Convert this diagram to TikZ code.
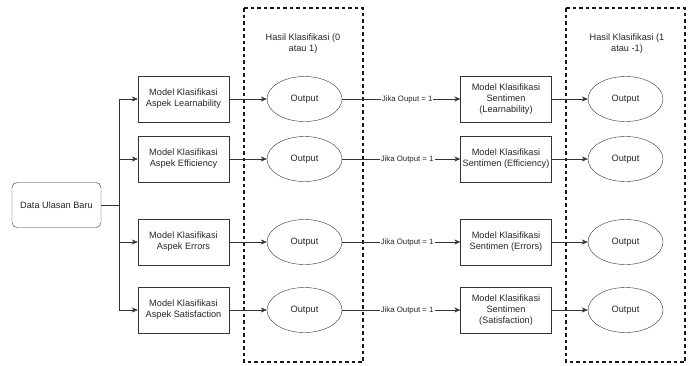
\documentclass[tikz,border=0pt]{standalone}
\usepackage{fontspec}
\setmainfont{Liberation Sans}
\usetikzlibrary{arrows.meta,shapes.geometric}

\begin{document}
\begin{tikzpicture}[x=1pt, y=-1pt,
    font=\fontsize{9.2}{11}\selectfont,
    every node/.style={text=black!85},
    box/.style={draw=black!80, minimum width=91pt, minimum height=46pt, align=center, inner sep=1pt},
    oval/.style={draw=black!80, ellipse, minimum width=75pt, minimum height=45pt, inner sep=0pt},
    arr/.style={draw=black!80, -{Stealth[length=6pt, width=5pt]}},
    frame/.style={draw=black!90, line width=1.4pt, dash pattern=on 3.5pt off 3pt},
    cond/.style={pos=0.55, fill=white, inner sep=1pt, font=\fontsize{7.8}{9}\selectfont}]
    \useasboundingbox (0,0) rectangle (695,365);

    % Dashed frames
    \draw[frame] (244,8) rectangle (363,362);
    \draw[frame] (566,8) rectangle (685,362);
    \node[align=center] (t1) at (303,44) {Hasil Klasifikasi (0\\atau 1)};
    \node[align=center] (t2) at (627,44) {Hasil Klasifikasi (1\\atau -1)};

    % Input
    \node[draw=black!80, rounded corners=5pt, minimum width=89pt, minimum height=45pt] (data) at (56.5,205) {Data Ulasan Baru};
    \coordinate (split) at (119,205);

    % Aspect models
    \node[box] (mL) at (183.5,99) {Model Klasifikasi\\Aspek Learnability};
    \node[box] (mE) at (183.5,159) {Model Klasifikasi\\Aspek Efficiency};
    \node[box] (mR) at (183.5,242) {Model Klasifikasi\\Aspek Errors};
    \node[box] (mS) at (183.5,310) {Model Klasifikasi\\Aspek Satisfaction};

    % First outputs
    \node[oval] (oL) at (304.5,99) {Output};
    \node[oval] (oE) at (304.5,159) {Output};
    \node[oval] (oR) at (304.5,242) {Output};
    \node[oval] (oS) at (304.5,310) {Output};

    % Sentiment models
    \node[box] (sL) at (506,99) {Model Klasifikasi\\Sentimen\\(Learnability)};
    \node[box] (sE) at (506,159) {Model Klasifikasi\\Sentimen (Efficiency)};
    \node[box] (sR) at (506,242) {Model Klasifikasi\\Sentimen (Errors)};
    \node[box] (sS) at (506,310) {Model Klasifikasi\\Sentimen\\(Satisfaction)};

    % Second outputs
    \node[oval] (rL) at (625.5,99) {Output};
    \node[oval] (rE) at (625.5,159) {Output};
    \node[oval] (rR) at (625.5,242) {Output};
    \node[oval] (rS) at (625.5,310) {Output};

    % Branching from input
    \draw[draw=black!80] (data.east) -- (split);
    \draw[arr] (split) |- (mL.west);
    \draw[arr] (split) |- (mE.west);
    \draw[arr] (split) |- (mR.west);
    \draw[arr] (split) |- (mS.west);

    % Models to outputs
    \draw[arr] (mL) -- (oL);
    \draw[arr] (mE) -- (oE);
    \draw[arr] (mR) -- (oR);
    \draw[arr] (mS) -- (oS);

    % Conditional arrows
    \draw[arr] (oL) -- (sL) node[cond] {Jika Ouput = 1};
    \draw[arr] (oE) -- (sE) node[cond] {Jika Output = 1};
    \draw[arr] (oR) -- (sR) node[cond] {Jika Output = 1};
    \draw[arr] (oS) -- (sS) node[cond] {Jika Output = 1};

    % Sentiment to outputs
    \draw[arr] (sL) -- (rL);
    \draw[arr] (sE) -- (rE);
    \draw[arr] (sR) -- (rR);
    \draw[arr] (sS) -- (rS);
\end{tikzpicture}
\end{document}
